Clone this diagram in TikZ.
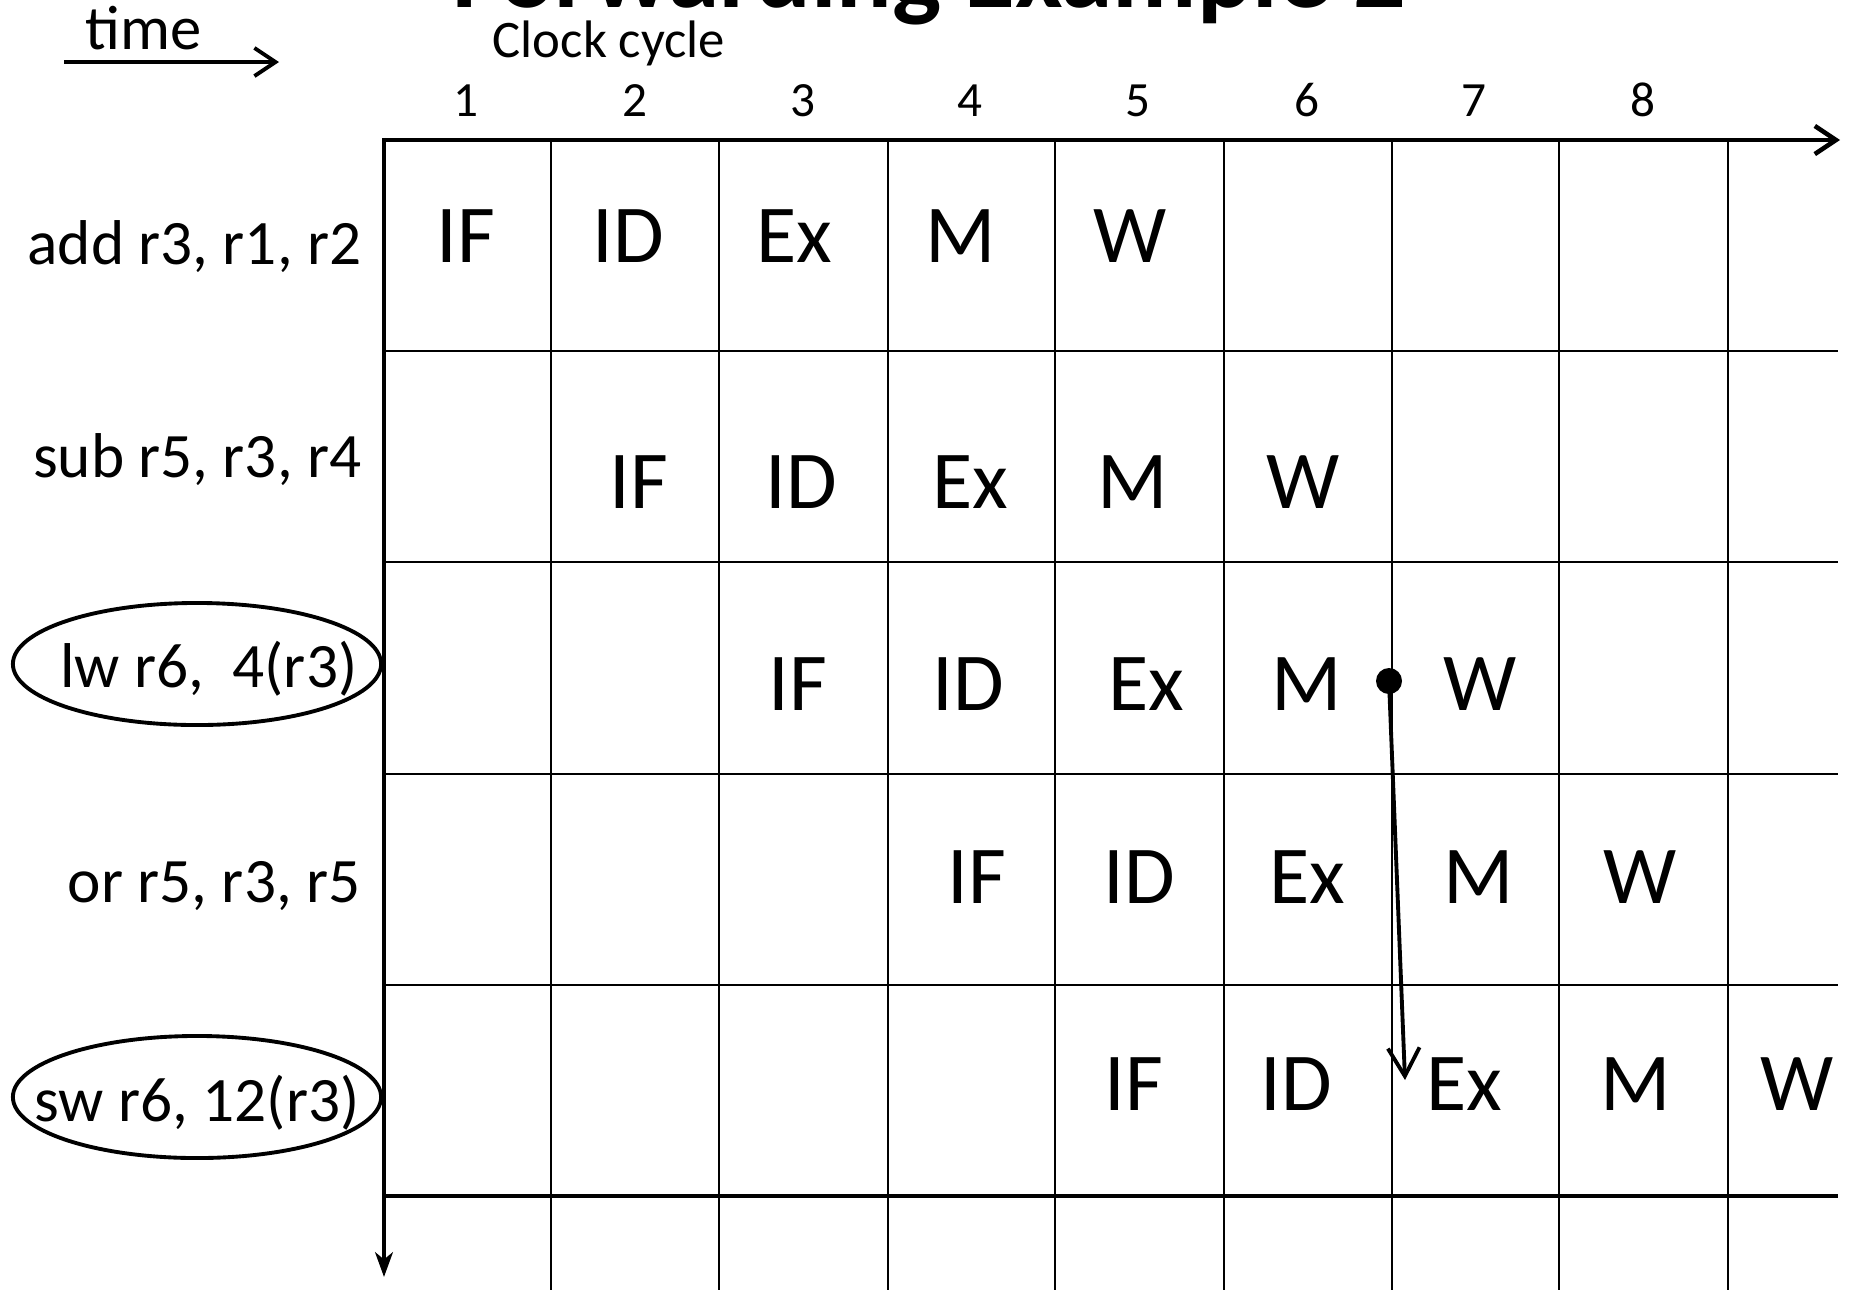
\documentclass[tikz,border=0pt]{standalone}
\usepackage{fontspec}
\setmainfont{Carlito}
\usetikzlibrary{arrows.meta,shapes.geometric}
\begin{document}
\begin{tikzpicture}[x=0.01cm,y=-0.01cm,
  axis/.style={line width=1.3pt, line cap=butt},
  gridline/.style={line width=0.6pt},
  stage/.style={font=\fontsize{23.4}{28}\selectfont, anchor=base, inner sep=0pt},
  instr/.style={font=\fontsize{18}{21}\selectfont, anchor=base east, inner sep=0pt},
  cyc/.style={font=\fontsize{14}{17}\selectfont, anchor=base, inner sep=0pt},
  ell/.style={ellipse, draw, line width=1.1pt, minimum width=3.68cm, minimum height=1.22cm, inner sep=0pt},
  barb/.style={-{Straight Barb[length=6pt,width=8pt]}},
  ]
\useasboundingbox (0,0) rectangle (1851,1290);
\clip (0,0) rectangle (1851,1290);

% title (cut off at top)
\node[anchor=base west, inner sep=0pt, font=\fontsize{29.5}{34}\selectfont\bfseries] (title) at (452,7) {Forwarding Example 2};

% time arrow
\node[anchor=base west, inner sep=0pt, font=\fontsize{17.8}{21}\selectfont] (time) at (85,49) {time};
\coordinate (t0) at (64,62);
\coordinate (t1) at (279,62);
\draw[line width=1.1pt, barb] (t0) -- (t1);

% clock cycle
\node[anchor=base west, inner sep=0pt, font=\fontsize{15}{18}\selectfont] (clk) at (492,57) {Clock cycle};
\foreach \n/\x in {1/466,2/635,3/803,4/970,5/1138,6/1307,7/1474,8/1643}
  \node[cyc] (c\n) at (\x,116) {\n};

% grid
\foreach \x in {551,719,888,1055,1224,1392,1559,1728}
  \draw[gridline] (\x,140) -- (\x,1290);
\foreach \y in {351,562,774,985}
  \draw[gridline] (384,\y) -- (1838,\y);
\draw[line width=0.9pt] (384,1196) -- (1838,1196);

% axes
\coordinate (o) at (384,140);
\coordinate (xend) at (1840,140);
\coordinate (yend) at (384,1277);
\draw[axis, barb] (o) -- (xend);
\draw[axis, -{Stealth[length=7pt,width=5pt,inset=2pt]}] ([yshift=0.6pt]o) -- (yend);

% instructions
\node[instr] (i1) at (362,264) {add r3, r1, r2};
\node[instr] (i2) at (362,477) {sub r5, r3, r4};
\node[instr] (i3) at (358,687) {lw r6,\ \ 4(r3)};
\node[instr] (i4) at (361,902) {or r5, r3, r5};
\node[instr] (i5) at (360,1121) {sw r6, 12(r3)};
\node[ell] (e3) at (197,664) {};
\node[ell] (e5) at (197,1097) {};

% stages
\foreach \t/\x [count=\k] in {IF/466,ID/628,Ex/794,M/961,W/1130}
  \node[stage] (s1\k) at (\x,262) {\t};
\foreach \t/\x [count=\k] in {IF/639,ID/801,Ex/970,M/1133,W/1303}
  \node[stage] (s2\k) at (\x,508) {\t};
\foreach \t/\x [count=\k] in {IF/798,ID/968,Ex/1146,M/1307,W/1480}
  \node[stage] (s3\k) at (\x,710) {\t};
\foreach \t/\x [count=\k] in {IF/977,ID/1139,Ex/1307,M/1479,W/1640}
  \node[stage] (s4\k) at (\x,903) {\t};
\foreach \t/\x [count=\k] in {IF/1134,ID/1296,Ex/1464,M/1636,W/1797}
  \node[stage] (s5\k) at (\x,1110) {\t};

% forwarding
\node[circle, fill, minimum size=0.26cm, inner sep=0pt] (dot) at (1389,681) {};
\coordinate (fwd) at (1405,1080);
\draw[line width=1.1pt, -{Straight Barb[length=8pt,width=9pt]}] (dot.center) -- (fwd);
\end{tikzpicture}
\end{document}
